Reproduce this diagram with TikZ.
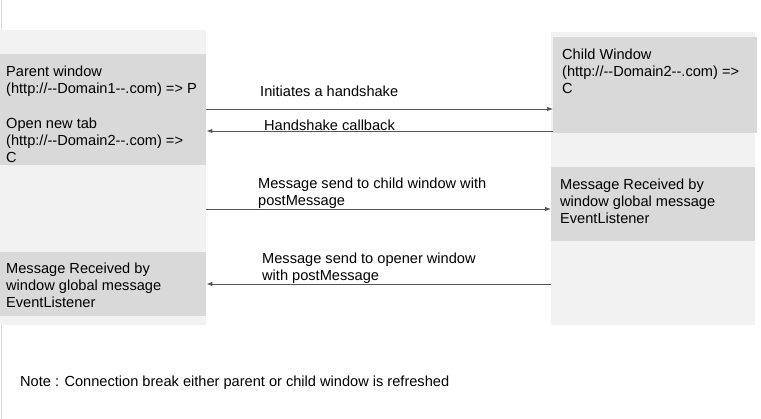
\documentclass[tikz,border=0pt]{standalone}
\usepackage{fontspec}
\setmainfont{Liberation Sans}
\usetikzlibrary{arrows.meta}
\definecolor{panelgrey}{HTML}{F2F2F2}
\definecolor{boxgrey}{HTML}{D9D9D9}
\definecolor{linegrey}{HTML}{555555}

\begin{document}
\begin{tikzpicture}[x=1pt, y=-1pt,
    panel/.style={fill=panelgrey, anchor=north west, inner sep=0pt},
    box/.style={fill=boxgrey, anchor=north west, inner sep=0pt},
    txt/.style={anchor=north west, align=left, inner sep=0pt, font=\fontsize{14.6}{17}\selectfont},
    msg/.style={draw=linegrey, line width=0.9pt, -{Latex[length=6pt,width=4.5pt]}}]
  \useasboundingbox (0,0) rectangle (761,419);
  \draw [black!15, line width=1pt] (1.5,0) -- (1.5,419);

  % the two windows
  \node [panel, minimum width=206pt, minimum height=295pt] (leftcol) at (0,30) {};
  \node [panel, minimum width=204pt, minimum height=293pt] (rightcol) at (551,32) {};
  \node [box, minimum width=206pt, minimum height=111pt] (parent) at (0,54) {};
  \node [box, minimum width=206pt, minimum height=64pt] (parentmsg) at (0,252) {};
  \node [box, minimum width=204pt, minimum height=96pt] (child) at (553,37) {};
  \node [box, minimum width=204pt, minimum height=74pt] (childmsg) at (551,167) {};

  \node [txt] (parenttxt) at (6,65.4) {Parent window\\(http://-{}-Domain1-{}-.com) => P\\[18pt]Open new tab\\(http://-{}-Domain2-{}-.com) =>\\C};
  \node [txt] (parentmsgtxt) at (6,262.4) {Message Received by\\window global message\\EventListener};
  \node [txt] (childtxt) at (562,48.4) {Child Window\\(http://-{}-Domain2-{}-.com) =>\\C};
  \node [txt] (childmsgtxt) at (560,178.4) {Message Received by\\window global message\\EventListener};

  % messages
  \draw [msg] (parent.east |- 0,109) -- (child.west |- 0,109);
  \draw [msg] (child.west |- 0,131) -- (parent.east |- 0,131);
  \draw [msg] (leftcol.east |- 0,209) -- (childmsg.west |- 0,209);
  \draw [msg] (rightcol.west |- 0,284) -- (parentmsg.east |- 0,284);

  \node [txt] (hs) at (260,85.4) {Initiates a handshake};
  \node [txt] (cb) at (264,119.4) {Handshake callback};
  \node [txt] (tochild) at (258,177.4) {Message send to child window with\\postMessage};
  \node [txt] (toopener) at (262,252.4) {Message send to opener window\\with postMessage};

  \node [txt] (note) at (20,375.4) {Note : Connection break either parent or child window is refreshed};
\end{tikzpicture}
\end{document}
